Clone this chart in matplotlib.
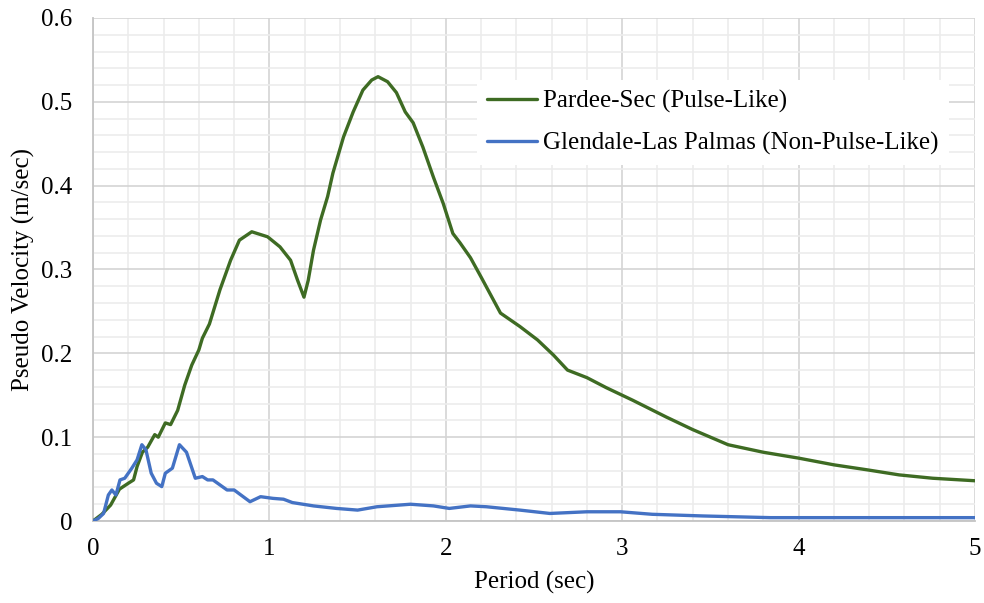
import matplotlib
matplotlib.use("Agg")
import matplotlib.pyplot as plt
from matplotlib.ticker import MultipleLocator, FuncFormatter

# Pseudo velocity spectra (period in sec, PSV in m/sec)
periodo_pulso = [0, 0.05, 0.1, 0.15, 0.2, 0.23, 0.25, 0.28, 0.31, 0.35, 0.37, 0.41, 0.44,
                 0.48, 0.52, 0.56, 0.6, 0.62, 0.66, 0.72, 0.78, 0.83, 0.9, 0.99, 1.06,
                 1.12, 1.16, 1.196, 1.22, 1.25, 1.29, 1.33, 1.36, 1.42, 1.475, 1.53, 1.58,
                 1.616, 1.67, 1.72, 1.77, 1.815, 1.87, 1.93, 1.985, 2.04, 2.08, 2.14, 2.2,
                 2.31, 2.42, 2.52, 2.61, 2.69, 2.8, 2.91, 3.06, 3.25, 3.4, 3.6, 3.8, 4.0,
                 4.2, 4.39, 4.57, 4.76, 5.0]
psv_pulso = [0, 0.008, 0.019, 0.038, 0.045, 0.049, 0.065, 0.082, 0.088, 0.103, 0.1, 0.117,
             0.115, 0.132, 0.162, 0.186, 0.204, 0.218, 0.235, 0.276, 0.311, 0.335, 0.345,
             0.339, 0.327, 0.311, 0.287, 0.267, 0.287, 0.323, 0.359, 0.387, 0.415, 0.458,
             0.488, 0.514, 0.526, 0.530, 0.524, 0.511, 0.488, 0.475, 0.446, 0.41, 0.379,
             0.343, 0.332, 0.314, 0.291, 0.248, 0.232, 0.216, 0.198, 0.180, 0.171, 0.159,
             0.144, 0.124, 0.109, 0.091, 0.082, 0.075, 0.067, 0.061, 0.055, 0.051, 0.048]

periodo_no_pulso = [0, 0.03, 0.06, 0.087, 0.107, 0.13, 0.153, 0.18, 0.22, 0.25, 0.277, 0.30,
                    0.33, 0.36, 0.39, 0.41, 0.45, 0.49, 0.53, 0.58, 0.62, 0.65, 0.68, 0.76,
                    0.80, 0.89, 0.95, 1.02, 1.08, 1.13, 1.25, 1.38, 1.50, 1.61, 1.80, 1.93,
                    2.02, 2.14, 2.23, 2.42, 2.59, 2.80, 2.99, 3.17, 3.46, 3.84, 4.2, 4.6, 5.0]
psv_no_pulso = [0, 0.003, 0.009, 0.031, 0.037, 0.031, 0.049, 0.051, 0.063, 0.073, 0.091,
                0.085, 0.057, 0.045, 0.041, 0.057, 0.063, 0.091, 0.082, 0.051, 0.053, 0.049,
                0.049, 0.037, 0.037, 0.023, 0.029, 0.027, 0.026, 0.022, 0.018, 0.015, 0.013,
                0.017, 0.020, 0.018, 0.015, 0.018, 0.017, 0.013, 0.009, 0.011, 0.011, 0.008,
                0.006, 0.004, 0.004, 0.004, 0.004]

nombres = ["Pardee-Sec (Pulse-Like)", "Glendale-Las Palmas (Non-Pulse-Like)"]

plt.rcParams["font.family"] = ["Liberation Serif", "DejaVu Serif"]
plt.rcParams["font.size"] = 18

fig = plt.figure(figsize=(9.84, 6.03), dpi=100)
ax = fig.add_axes([93 / 984, 1 - 521 / 603, (975 - 93) / 984, (521 - 18) / 603])

ax.plot(periodo_pulso, psv_pulso, color="#3e6b23", lw=2.4, label=nombres[0],
        solid_joinstyle="round", solid_capstyle="round", zorder=3)
ax.plot(periodo_no_pulso, psv_no_pulso, color="#4472c4", lw=2.4, label=nombres[1],
        solid_joinstyle="round", solid_capstyle="round", zorder=3)

ax.set_xlim(0, 5)
ax.set_ylim(0, 0.6)
ax.xaxis.set_major_locator(MultipleLocator(1))
ax.xaxis.set_minor_locator(MultipleLocator(0.2))
ax.yaxis.set_major_locator(MultipleLocator(0.1))
ax.yaxis.set_minor_locator(MultipleLocator(0.02))
formato = FuncFormatter(lambda v, _: f"{v:.1f}".rstrip("0").rstrip(".") if v else "0")
ax.xaxis.set_major_formatter(formato)
ax.yaxis.set_major_formatter(formato)

ax.grid(which="major", color="#d4d4d4", lw=1.2, zorder=0)
ax.grid(which="minor", color="#ececec", lw=1.2, zorder=0)
ax.set_axisbelow(True)
for lado in ["top", "right"]:
    ax.spines[lado].set_visible(False)
for lado in ["left", "bottom"]:
    ax.spines[lado].set_color("#c4c4c4")
    ax.spines[lado].set_linewidth(1.3)
ax.tick_params(which="both", length=0)
ax.tick_params(axis="y", pad=15)
ax.tick_params(axis="x", pad=12)

ax.set_xlabel("Period (sec)", labelpad=8)
ax.set_ylabel("Pseudo Velocity (m/sec)", labelpad=4)

leyenda = ax.legend(loc="upper left", bbox_to_anchor=(477 / 984, 1 - 80 / 603),
                    bbox_transform=fig.transFigure, borderaxespad=0, frameon=True,
                    fancybox=False, framealpha=1, edgecolor="none", facecolor="white",
                    handlelength=2.0, handletextpad=0.25, labelspacing=0.75, fontsize=18)

fig.savefig("out.png", dpi=100)
